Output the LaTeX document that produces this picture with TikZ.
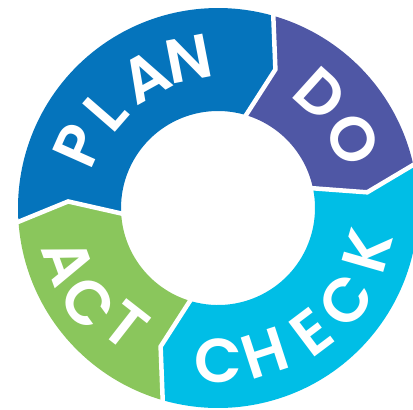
\documentclass[tikz,border=0pt]{standalone}
\usepackage{fontspec}
\newfontfamily\pdcafont{Poppins SemiBold}
\definecolor{planblue}{RGB}{5,116,188}
\definecolor{doviolet}{RGB}{79,87,165}
\definecolor{checkcyan}{RGB}{0,190,230}
\definecolor{actgreen}{RGB}{138,198,92}
\begin{document}
\begin{tikzpicture}[x=1pt,y=1pt,
  letter/.style={text=white,inner sep=0pt,outer sep=0pt,anchor=center,
    font=\pdcafont\fontsize{62}{62}\selectfont},
  gapline/.style={draw=white,line width=4.5pt,line join=miter}]
\useasboundingbox (-218,-202) rectangle (195,208);
\clip (-218,-202) rectangle (195,208);
% ring geometry: outer radius, chevron radius, inner radius, chevron lead
\def\Ro{200}\def\Rm{150}\def\Ri{97}\def\lead{7}
% one ring segment from boundary #1 (clockwise) to boundary #2
\newcommand\ringpiece[3]{%
  \fill[#3] (#1:\Ro) arc[start angle=#1,end angle=#2,radius=\Ro]
    -- ({#2-\lead}:\Rm) -- (#2:\Ri)
    arc[start angle=#2,end angle=#1,radius=\Ri]
    -- ({#1-\lead}:\Rm) -- cycle;}
\ringpiece{184.5}{74.5}{planblue}
\ringpiece{74.5}{13}{doviolet}
\ringpiece{13}{-105.5}{checkcyan}
\ringpiece{254.5}{184.5}{actgreen}
% white separators between the pieces
\foreach \b in {184.5,74.5,13,-105.5}
  \draw[gapline] (\b:206) -- ({\b-\lead}:\Rm) -- (\b:90);
% words along the top, reading clockwise
\foreach \ch/\ang/\rd/\nm in {P/156/153/plP,L/139/149/plL,A/119/150/plA,N/101/152/plN,
  D/48/153/doD,O/27/151/doO}
  \node[letter,rotate=\ang-90] (\nm) at (\ang:\rd) {\ch};
% words along the bottom, reading counterclockwise
\foreach \ch/\ang/\rd/\nm in {C/-90/153/ckC,H/-72/152/ckH,E/-53/155/ckE,C/-36/158/ckCc,K/-16/155/ckK,
  A/200/159/acA,C/216/161/acC,T/232/149/acT}
  \node[letter,rotate=\ang+90] (\nm) at (\ang:\rd) {\ch};
\end{tikzpicture}
\end{document}
